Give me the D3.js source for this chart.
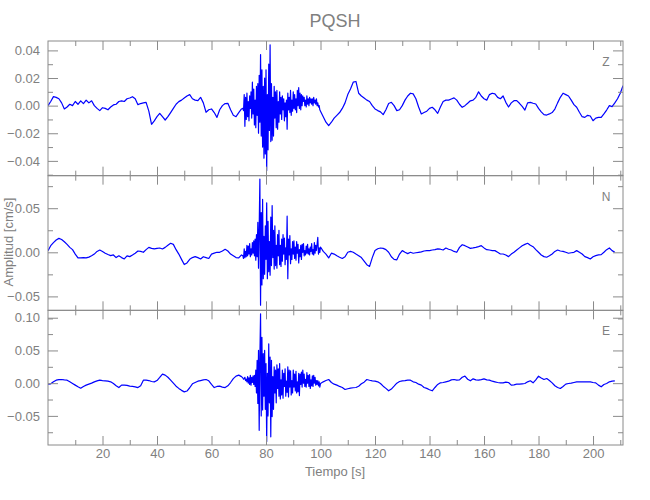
<!DOCTYPE html>
<html>
<head>
<meta charset="utf-8">
<script src="https://cdn.jsdelivr.net/npm/d3@7"></script>
<style>
  body { margin: 0; background: #fff; }
  text { font-family: "Liberation Sans Narrow", "Liberation Sans", sans-serif; fill: #808080; }
</style>
</head>
<body>
<div id="chart"></div>
<script>
// Amplitudes, in units of 1e-3 cm/s.
// pre: t = 0..71 s (1 s step), burst: t = 71.5..99.75 s (0.25 s step), post: from t = 100 s (1 s step)
const zPre = [
  0, 3, 6.5, 6, 5, 2, -2.4, -1, 1, 0,
  3, 1, 3.5, 1.5, 4, 2, 3.5, 0, -2, -3.6,
  -1.5, -2, -3, -1, 0.5, 1, 3, 3.5, 3, 5,
  5.5, 6.5, 5, 0.7, 1.5, 2, 2.4, -4, -13.5, -11,
  -8, -5.6, -8, -10.4, -8, -5, -2, 1, 2.9, 4,
  5.5, 7, 8, 5, 4, 3.6, 6, 2, -4.8, -3,
  -2.4, -5, -8.5, -3, 0, 1.5, 1.7, -3, -7, -8,
  -5, -2.4
];
const zBurst = [
  -2, -3.6,
  8, -15, 6, -10,   9, -8, 3, -11,   7, -2, 10, -9,   17, -6, 12, -14,
  4, -16, 14, -7,  16, -20, 22, -12,  37, -22, 26, -30,  14, -38, 20, -35,
  26, -47, 8, -32,  30, -18, 44, -26,  16, -25, 6, -22,  14, -9, 10, -16,
  11, -17, 3, -12,  10, -6, 6, -10,  7, -3, 5, -11,  2, -8, 4, -17,
  9, -3, 6, -5,  11, -7, 4, -4,  10, -2, 8, -3,  5, -5, 11, 0,
  13, -2, 9, -3,  8, 0, 7, 3,  6, 0, 4, -1,  7, 1, 5, 0,
  6, 2, 5, 1,  5, 0, 6, 2,  4, 1, 5, 0,  2, -1, 0, -3
];
const zPost = [
  -4, -8, -12, -14.5, -12, -9, -7, -5, -2, 2,
  8, 12, 17, 17.5, 9, 7, 5.5, 4, 3, 0,
  -2.4, -3.6, -4.5, -6.5, -3, 1.5, 2.4, 0, -3.6, -3,
  0, 4, 7, 9, 8.5, 5, -1, -6, -5, -4,
  -2, -1.2, -3, -5.6, -1, 3, 4, 4, 4.8, 5.6,
  4, 1, -1.2, 0, 1.7, 3.5, 4, 6, 10, 7,
  5, 4, 8, 9, 8.5, 6, 5, 7, 2.4, -1,
  2, 3.6, 3.6, 1.7, -0.5, -3.2, 2, 2.4, 1.7, 1.2,
  -2, -4.5, -6.5, -6.8, -6, -5, -2.5, 2, 6, 9,
  8, 7, 4, 0.7, -1.2, -4.8, -8, -8.5, -7, -7.5,
  -10.9, -9, -8.5, -8.5, -6, -3.2, 0, -0.7, 2, 5,
  9, 14.5
];

const nPre = [
  1.9, 7.5, 11, 14, 15.8, 14.5, 12, 9, 5.6, 3,
  -2, -6.4, -6.4, -6, -6.4, -5.5, -4, -2, 1, 2.6,
  1, -1, -2.5, -3.8, -3, -6, -4, -6, -7.5, -4,
  -4.9, -3, -1, 1.5, 1, 0, 3, 5.6, 4.5, 3.8,
  4.5, 4.9, 3.8, 5.6, 8, 10.2, 9, 3, -2, -8,
  -13.9, -12, -8, -6, -4.9, -6, -7.5, -5, -6, -7,
  -2, -1, 0, 0, 1.5, 3.4, 1.5, -2, -4, -6,
  -6.4, -3
];
const nBurst = [
  -4, -7,
  4, -6, 1, -5,  8, -4, 7, -2,  10, -5, 4, -3,  11, -1, 13, -4,
  15, -9, 20, -5,  34, -18, 28, 83,  -60, 45, -37, 60,  -30, 18, -25, 30,
  -8, 56, -30, 35,  -22, 12, -26, 40,  -15, 53, -6, 25,  -19, 30, -15, 8,
  -18, 20, -4, 25,  -14, 8, -16, 15,  -10, 20, -2, 16,  -14, 5, -8, 41,
  -30, 15, -3, 19,  -13, 4, -8, 12,  -2, 13, -7, 6,  -9, 12, -1, 9,
  -12, 3, -5, 8,  -8, 9, 0, 10,  -4, 2, -3, 7,  -1, 9, -2, 4,
  -3, 6, 1, 10,  -2, 3, -3, 11,  -1, 8, 2, 9,  17, -2, 5, 0
];
const nPost = [
  6, 1, -2, -6.4, -1, -2, -4, -5.6, -7, -5,
  0, 1, 0, -2, -3.8, -6, -10, -14, -16, -6,
  2, 4, 4.9, 4.5, 3, 0, -5, -8, -8.5, -2,
  1.9, 0, -1.5, 0, -1.1, -0.5, 0, 0.5, 1.5, 1.9,
  2, 2.6, 3, 3.8, 3.5, 2.6, 4.9, 3.5, 2.6, 1,
  0, 5.6, 8.6, 7.5, 6, 4.5, 5, 5.6, 6.5, 7.5,
  5, 3, 2.6, 2, 1.9, 0, -1.9, -1.9, -3, -4.9,
  -2, 0, 2.6, 5, 7.5, 9, 10.2, 8, 6.4, 3,
  0, -3, -4.9, -5.6, -4, -1.9, 1, 2.6, 1.5, 1.1,
  0, -1.1, -0.5, 0, 1.9, 0, -1.9, -4.9, -6, -7.5,
  -5, -3.8, -3, -2.6, 0, 3, 4.9, 1.9, 0
];

const ePre = [
  -1.5, -1, 2, 4.6, 5.5, 5.6, 5, 4.6, 2, -0.5,
  -3, -5.5, -7.7, -5, -3, -1.5, 0, 2, 3.5, 4.6,
  4, 3.6, 3, 2, -0.5, -4, -6.7, -3, -3, -3.5,
  -4.6, -5, -5.6, -6.7, -4, 4.6, 4.6, 4, 2.5, 2,
  4, 8.7, 13.8, 12.3, 9, 4.6, 0, -4.6, -8, -11,
  -13.3, -12, -7, -1, 1, 3, 4, 5, 5.6, 3.6,
  -2, -6.7, -5, -4.6, -6, -6.7, -4, 1, 7, 10.8,
  12.3, 10
];
const eBurst = [
  8, 6,
  7, 9, 4, 6,  2, 10, 0, 8,  -2, 12, -3, 9,  1, 11, -2, 12,
  -5, 20, -15, 35,  -31, 50, -72, 40,  106, -50, 70, -41,  45, -20, 50, -40,
  30, -89, 15, -50,  60, -30, 40, -82,  35, -51, 10, -40,  25, -15, 20, -30,
  28, -8, 22, -20,  30, -24, 5, -18,  20, -23, 15, -5,  22, -20, 3, -14,
  25, -21, 20, -6,  19, -18, 4, -15,  20, -6, 14, -12,  18, -15, 2, -13,
  15, -19, 14, -2,  17, -6, 20, 0,  14, -5, 6, -6,  16, 0, 12, -5,
  13, -8, 5, -4,  11, -5, 12, 0,  9, -3, 4, -2,  4, -4, 2, -6
];
const ePost = [
  -0.5, 2, 4, 5.6, 1, -1.5, -3, -5, -6.6, -9.7,
  -8.5, -7.6, -7, -6.6, -4.6, -1, 1.5, 5.6, 4.5, 3.6,
  3, 2, -0.5, -4.6, -8, -11.7, -9, -4.6, 0, 2.5,
  3.6, 4, 4.6, 4.5, 2, 1, -1.5, -3, -6.6, -8,
  -10, -11.7, -6.6, -2, 0.5, 1, 2, 3, 5, 5.6,
  4.6, 5, 9, 10.7, 6, 3.6, 6.6, 5, 4.6, 5.5,
  6.6, 5, 4.6, 3, 2, 1, 0.5, 0.5, 1.5, 1,
  -3, -2.5, -1.5, -1.5, -1, -0.5, 2, 3.6, 0.5, 5,
  10.7, 8, 5.6, 7.1, 4, 0.5, -4, -6.6, -8.1, -5,
  -1.5, -0.5, 0, 1, 2, 2, 2, 2, 2, 2,
  1, 0.5, -3, -5.6, -2, -0.5, 2, 3, 3.6
];

const components = ['Z', 'N', 'E'];
const yRanges = [[-0.0507, 0.0468], [-0.0658, 0.0869], [-0.0945, 0.1113]];
const yMajor = [[-0.04, -0.02, 0, 0.02, 0.04], [-0.05, 0, 0.05], [-0.05, 0, 0.05, 0.10]];
const yMinor = [
  [-0.05, -0.03, -0.01, 0.01, 0.03],
  [-0.075, -0.025, 0.025, 0.075],
  [-0.075, -0.025, 0.025, 0.075]
];
const xRange = [0, 211];
const xMajor = [20, 40, 60, 80, 100, 120, 140, 160, 180, 200];
const xMinor = [10, 30, 50, 70, 90, 110, 130, 150, 170, 190, 210];

// sample times
const preStart = 0, preStep = 1;
const burstStart = 71.5, burstStep = 0.25;
const postStart = 100, postStep = 1;

function buildTrace(pre, burst, post) {
  const pts = [];
  pre.forEach((v, i) => pts.push([preStart + i * preStep, v / 1000]));
  burst.forEach((v, i) => pts.push([burstStart + i * burstStep, v / 1000]));
  post.forEach((v, i) => pts.push([postStart + i * postStep, v / 1000]));
  return pts;
}
const traces = [
  buildTrace(zPre, zBurst, zPost),
  buildTrace(nPre, nBurst, nPost),
  buildTrace(ePre, eBurst, ePost)
];

const width = 650, height = 500;
const margin = { left: 48, right: 27, top: 41, bottom: 55 };
const plotW = width - margin.left - margin.right;
const panelH = (height - margin.top - margin.bottom) / 3;
const axisColor = '#8a8a8a';

const svg = d3.select('#chart').append('svg')
  .attr('width', width)
  .attr('height', height);

const x = d3.scaleLinear().domain(xRange).range([margin.left, margin.left + plotW]);
const fmt = d3.format('.2f');

components.forEach((comp, i) => {
  const top = margin.top + i * panelH;
  const bottom = top + panelH;
  const y = d3.scaleLinear().domain(yRanges[i]).range([bottom, top]);

  const g = svg.append('g');

  svg.append('clipPath').attr('id', 'clip' + i)
    .append('rect')
    .attr('x', margin.left).attr('y', top)
    .attr('width', plotW).attr('height', panelH);

  // trace
  const line = d3.line().x(d => x(d[0])).y(d => y(d[1]));
  g.append('path')
    .datum(traces[i])
    .attr('clip-path', 'url(#clip' + i + ')')
    .attr('fill', 'none')
    .attr('stroke', '#0000ff')
    .attr('stroke-width', 1.2)
    .attr('stroke-linejoin', 'round')
    .attr('d', line);

  // frame
  g.append('rect')
    .attr('x', margin.left).attr('y', top)
    .attr('width', plotW).attr('height', panelH)
    .attr('fill', 'none')
    .attr('stroke', axisColor)
    .attr('stroke-width', 1);

  // y axes, ticks pointing inward
  g.append('g').attr('transform', `translate(${margin.left},0)`)
    .call(d3.axisLeft(y).tickValues(yMajor[i]).tickFormat(fmt).tickSize(-10).tickPadding(8));
  g.append('g').attr('transform', `translate(${margin.left},0)`)
    .call(d3.axisLeft(y).tickValues(yMinor[i]).tickFormat('').tickSize(-5));
  g.append('g').attr('transform', `translate(${margin.left + plotW},0)`)
    .call(d3.axisRight(y).tickValues(yMajor[i]).tickFormat('').tickSize(-10));
  g.append('g').attr('transform', `translate(${margin.left + plotW},0)`)
    .call(d3.axisRight(y).tickValues(yMinor[i]).tickFormat('').tickSize(-5));

  // x axes on top and bottom of each panel
  g.append('g').attr('transform', `translate(0,${top})`)
    .call(d3.axisTop(x).tickValues(xMajor).tickFormat('').tickSize(-9));
  g.append('g').attr('transform', `translate(0,${top})`)
    .call(d3.axisTop(x).tickValues(xMinor).tickFormat('').tickSize(-5));
  g.append('g').attr('transform', `translate(0,${bottom})`)
    .call(d3.axisBottom(x).tickValues(xMajor)
      .tickFormat(i === 2 ? d3.format('d') : '').tickSize(-9).tickPadding(4));
  g.append('g').attr('transform', `translate(0,${bottom})`)
    .call(d3.axisBottom(x).tickValues(xMinor).tickFormat('').tickSize(-5));

  // component letter
  g.append('text')
    .attr('x', margin.left + plotW - 17)
    .attr('y', top + 25)
    .attr('text-anchor', 'middle')
    .style('font-size', '12px')
    .text(comp);
});

svg.selectAll('.domain').remove();
svg.selectAll('.tick line').attr('stroke', axisColor);
svg.selectAll('.tick text').style('font-size', '13px').attr('fill', '#808080');

svg.append('text')
  .attr('x', 335).attr('y', 27)
  .attr('text-anchor', 'middle')
  .style('font-size', '18px')
  .text('PQSH');

svg.append('text')
  .attr('x', 335).attr('y', 476)
  .attr('text-anchor', 'middle')
  .style('font-size', '13px')
  .text('Tiempo [s]');

svg.append('text')
  .attr('transform', 'translate(13,242) rotate(-90)')
  .attr('text-anchor', 'middle')
  .style('font-size', '13px')
  .text('Amplitud [cm/s]');
</script>
</body>
</html>
